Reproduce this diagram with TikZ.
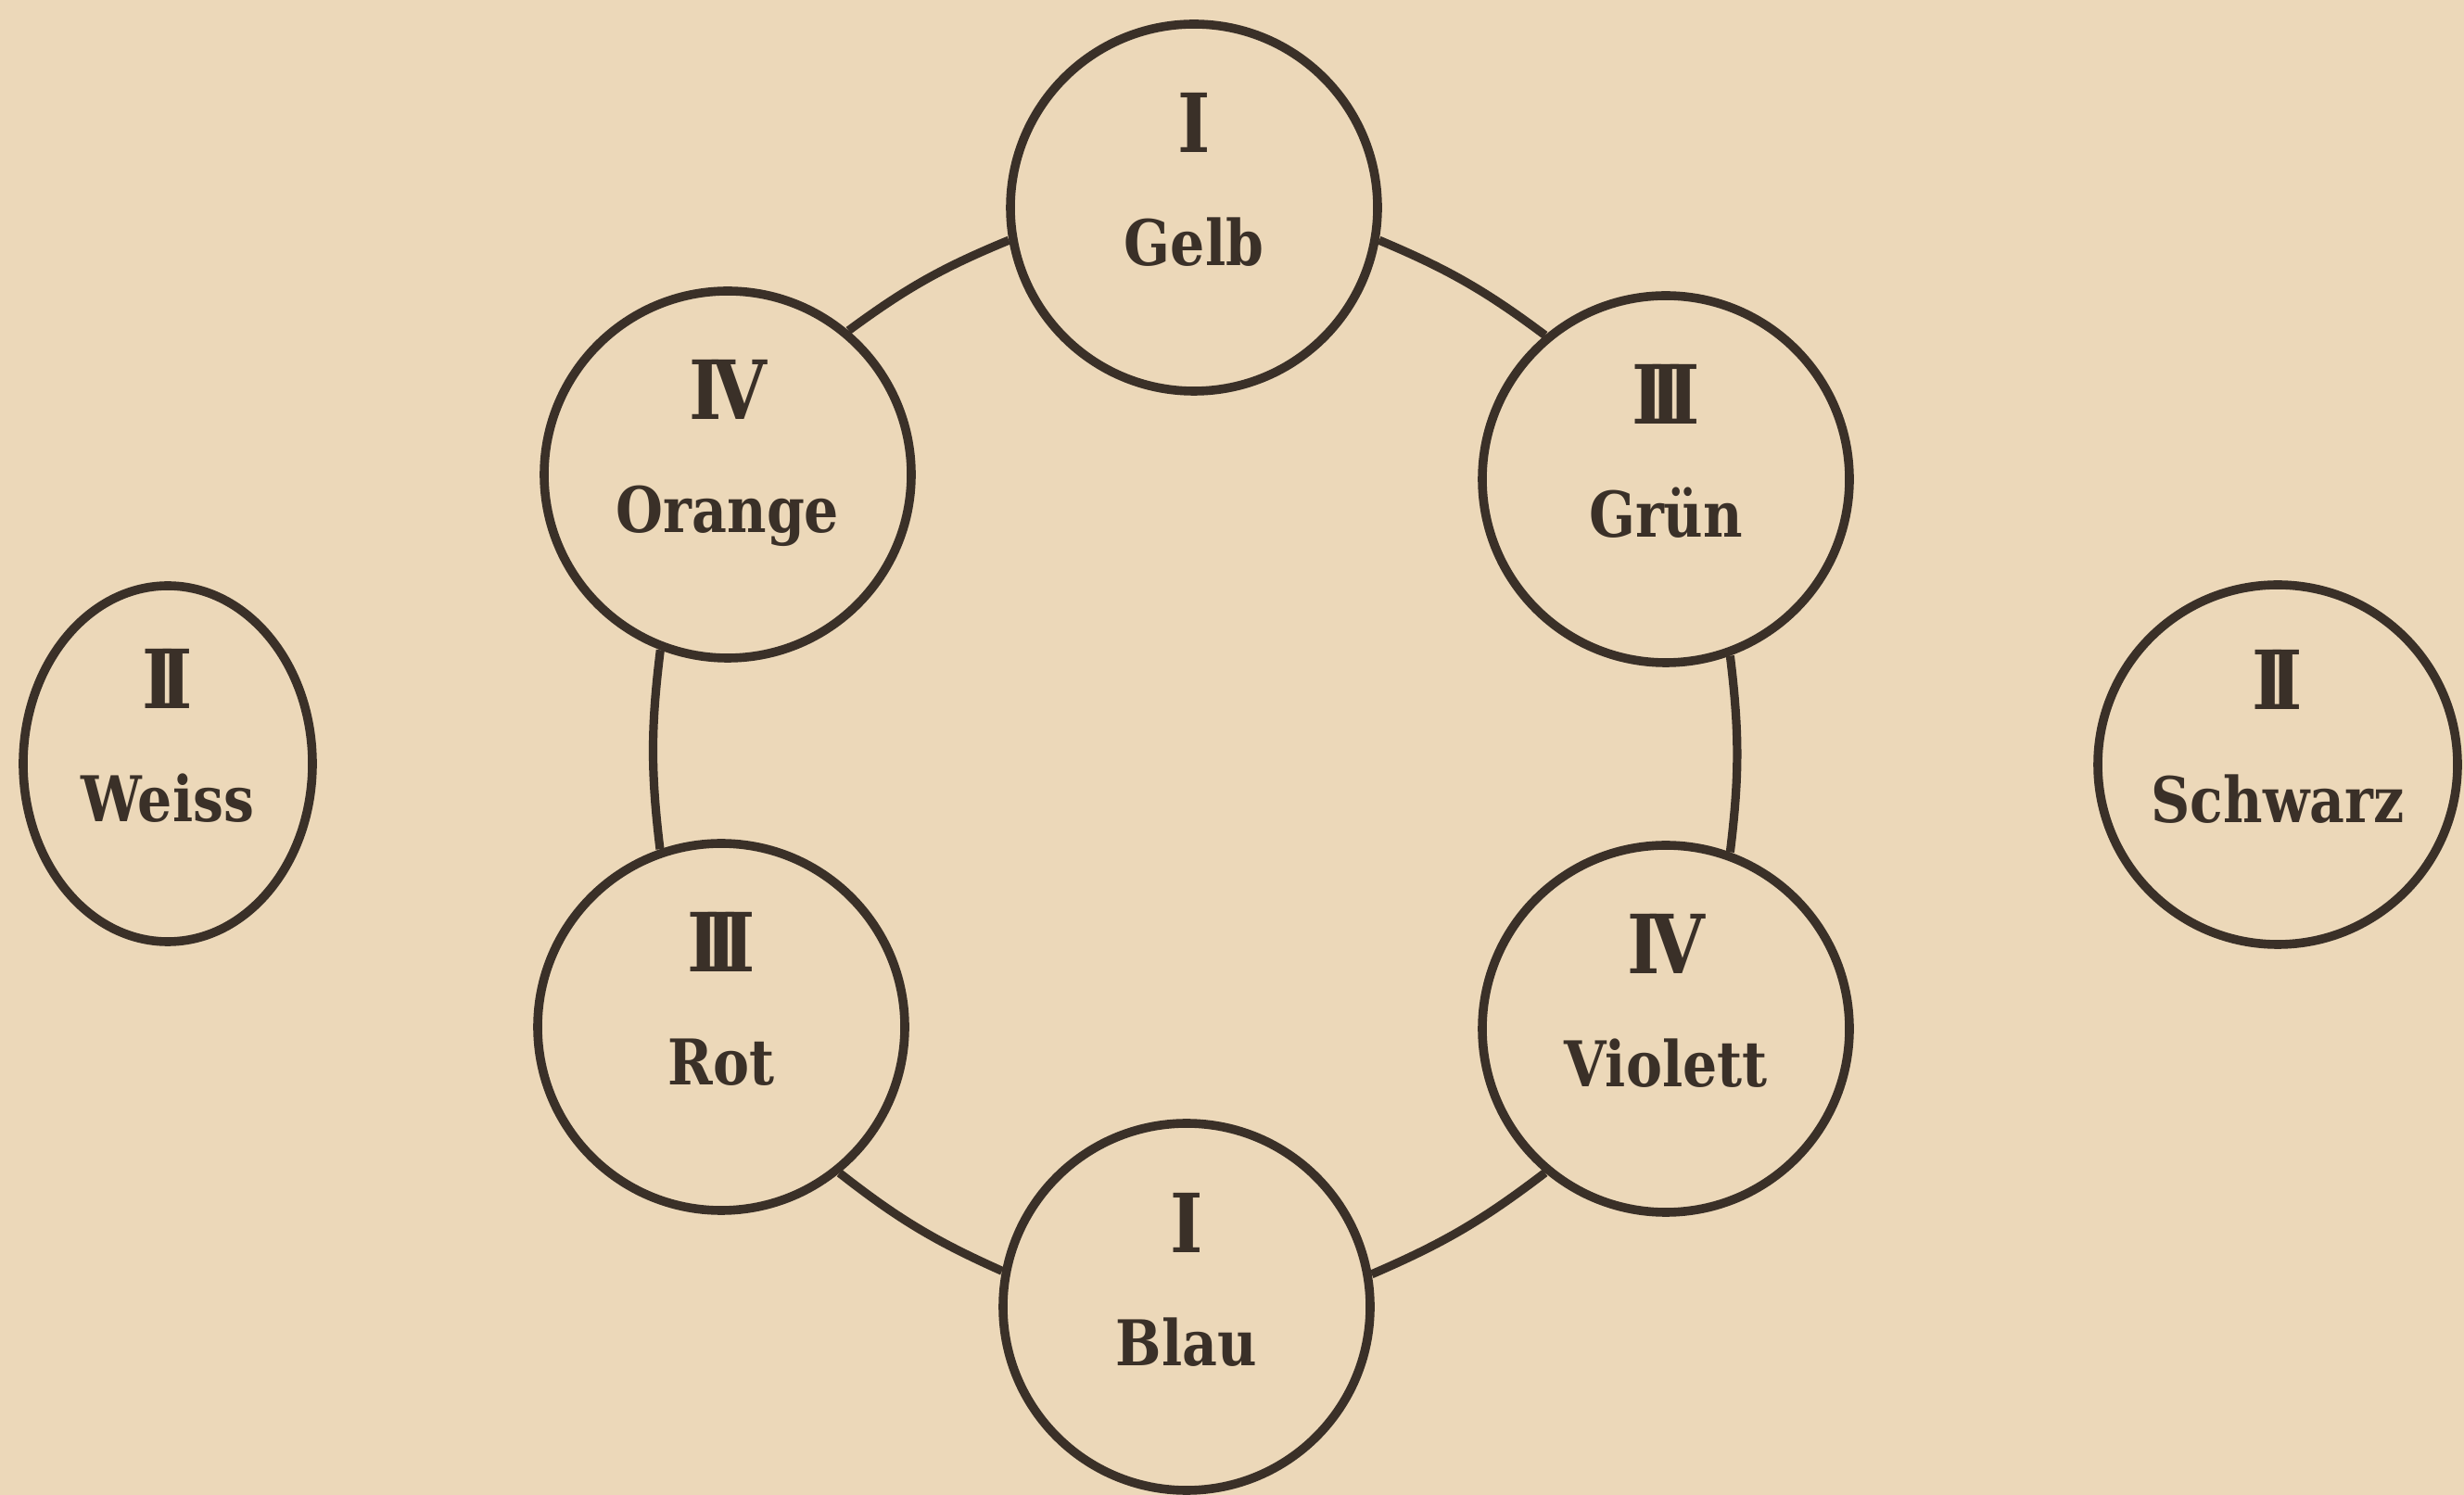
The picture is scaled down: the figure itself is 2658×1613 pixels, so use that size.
\documentclass[tikz,border=0pt]{standalone}
\usepackage{fontspec}
\setmainfont{DejaVu Serif}[FakeStretch=0.86]
\usetikzlibrary{shapes.geometric}
\definecolor{paper}{RGB}{236,216,185}
\definecolor{ink}{RGB}{58,48,40}
\newcommand\RomII{I\kern-0.19em I}
\newcommand\RomIII{I\kern-0.19em I\kern-0.19em I}
\newcommand\RomIV{I\kern-0.12em V}
\begin{document}
\begin{tikzpicture}[x=0.25pt,y=0.25pt,
  farbe/.style={circle, draw=ink, line width=2.4pt, minimum size=99pt, inner sep=0pt},
  oval/.style={ellipse, draw=ink, line width=2.4pt, minimum width=78pt, minimum height=96pt, inner sep=0pt},
  num/.style={anchor=base, text=ink, font=\bfseries\fontsize{22}{22}\selectfont, inner sep=0pt},
  wort/.style={anchor=base, text=ink, font=\bfseries\fontsize{17}{17}\selectfont, inner sep=0pt},
  ring/.style={draw=ink, line width=2.3pt, bend right=7}
]
\fill[paper] (0,0) rectangle (2658,-1613);
\useasboundingbox (0,0) rectangle (2658,-1613);

\node[farbe] (gelb) at (1288,-224) {};
\node[farbe] (orange) at (785,-512) {};
\node[farbe] (gruen) at (1797,-517) {};
\node[farbe] (rot) at (778,-1108) {};
\node[farbe] (violett) at (1797,-1110) {};
\node[farbe] (blau) at (1280,-1410) {};
\node[oval] (weiss) at (181,-824) {};
\node[farbe, minimum size=97pt] (schwarz) at (2457,-825) {};

\node[num] (gelbN) at ([yshift=14.75pt]gelb.center) {I};
\node[wort] (gelbW) at ([yshift=-15.75pt]gelb.center) {Gelb};
\node[num] (orangeN) at ([yshift=14.75pt]orange.center) {\RomIV};
\node[wort] (orangeW) at ([yshift=-15.75pt]orange.center) {Orange};
\node[num] (gruenN) at ([yshift=14.75pt]gruen.center) {\RomIII};
\node[wort] (gruenW) at ([yshift=-15.75pt]gruen.center) {Grün};
\node[num] (rotN) at ([yshift=14.75pt]rot.center) {\RomIII};
\node[wort] (rotW) at ([yshift=-15.75pt]rot.center) {Rot};
\node[num] (violettN) at ([yshift=14.75pt]violett.center) {\RomIV};
\node[wort] (violettW) at ([yshift=-15.75pt]violett.center) {Violett};
\node[num] (blauN) at ([yshift=14.75pt]blau.center) {I};
\node[wort] (blauW) at ([yshift=-15.75pt]blau.center) {Blau};
\node[num] (weissN) at ([yshift=14.75pt]weiss.center) {\RomII};
\node[wort] (weissW) at ([yshift=-15.75pt]weiss.center) {Weiss};
\node[num] (schwarzN) at ([yshift=14.75pt]schwarz.center) {\RomII};
\node[wort] (schwarzW) at ([yshift=-15.75pt]schwarz.center) {Schwarz};

\draw[ring] (gelb.190) to (orange.50);
\draw[ring] (orange.249) to (rot.109);
\draw[ring] (rot.309) to (blau.169);
\draw[ring] (blau.10) to (violett.230);
\draw[ring] (violett.70) to (gruen.290);
\draw[ring] (gruen.130) to (gelb.350);
\end{tikzpicture}
\end{document}
